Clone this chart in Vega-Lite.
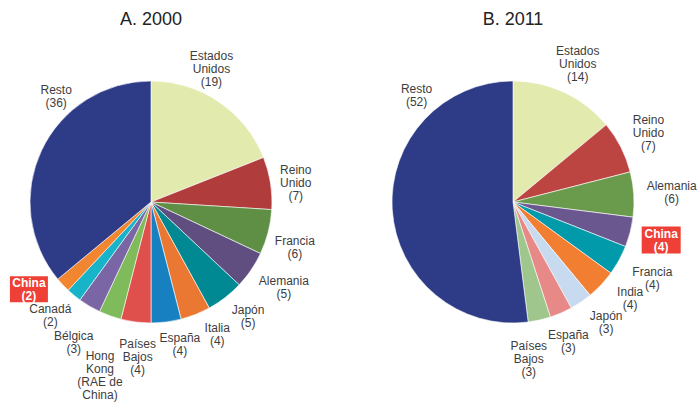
{
  "$schema": "https://vega.github.io/schema/vega-lite/v6.json",
  "padding": {"left": 0, "right": 0, "top": 11, "bottom": 0},
  "background": "#ffffff",
  "config": {
    "view": {"stroke": null},
    "title": {"fontSize": 18, "font": "Liberation Sans", "fontWeight": "normal", "color": "#222222", "offset": 7},
    "text": {"font": "Liberation Sans", "fontSize": 12, "lineHeight": 13, "fill": "#3d3d3d", "lineBreak": "\n", "baseline": "middle"}
  },
  "datasets": {
    "d2000": [
      {"pais": "Estados Unidos", "etiqueta": "Estados\nUnidos\n(19)", "valor": 19, "orden": 1},
      {"pais": "Reino Unido", "etiqueta": "Reino\nUnido\n(7)", "valor": 7, "orden": 2},
      {"pais": "Francia", "etiqueta": "Francia\n(6)", "valor": 6, "orden": 3},
      {"pais": "Alemania", "etiqueta": "Alemania\n(5)", "valor": 5, "orden": 4},
      {"pais": "Japón", "etiqueta": "Japón\n(5)", "valor": 5, "orden": 5},
      {"pais": "Italia", "etiqueta": "Italia\n(4)", "valor": 4, "orden": 6},
      {"pais": "España", "etiqueta": "España\n(4)", "valor": 4, "orden": 7},
      {"pais": "Países Bajos", "etiqueta": "Países\nBajos\n(4)", "valor": 4, "orden": 8},
      {"pais": "Hong Kong (RAE de China)", "etiqueta": "Hong\nKong\n(RAE de\nChina)", "valor": 3, "orden": 9},
      {"pais": "Bélgica", "etiqueta": "Bélgica\n(3)", "valor": 3, "orden": 10},
      {"pais": "Canadá", "etiqueta": "Canadá\n(2)", "valor": 2, "orden": 11},
      {"pais": "China", "etiqueta": "China\n(2)", "valor": 2, "orden": 12},
      {"pais": "Resto", "etiqueta": "Resto\n(36)", "valor": 36, "orden": 13}
    ],
    "d2011": [
      {"pais": "Estados Unidos", "etiqueta": "Estados\nUnidos\n(14)", "valor": 14, "orden": 1},
      {"pais": "Reino Unido", "etiqueta": "Reino\nUnido\n(7)", "valor": 7, "orden": 2},
      {"pais": "Alemania", "etiqueta": "Alemania\n(6)", "valor": 6, "orden": 3},
      {"pais": "China", "etiqueta": "China\n(4)", "valor": 4, "orden": 4},
      {"pais": "Francia", "etiqueta": "Francia\n(4)", "valor": 4, "orden": 5},
      {"pais": "India", "etiqueta": "India\n(4)", "valor": 4, "orden": 6},
      {"pais": "Japón", "etiqueta": "Japón\n(3)", "valor": 3, "orden": 7},
      {"pais": "España", "etiqueta": "España\n(3)", "valor": 3, "orden": 8},
      {"pais": "Países Bajos", "etiqueta": "Países\nBajos\n(3)", "valor": 3, "orden": 9},
      {"pais": "Resto", "etiqueta": "Resto\n(52)", "valor": 52, "orden": 10}
    ]
  },
  "spacing": 60,
  "bounds": "flush",
  "resolve": {"scale": {"color": "independent", "theta": "independent", "x": "independent", "y": "independent"}},
  "hconcat": [
    {
      "width": 302,
      "height": 332,
      "title": {"text": "A. 2000"},
      "data": {"name": "d2000"},
      "transform": [
        {"stack": "valor", "groupby": [], "sort": [{"field": "orden", "order": "ascending"}], "as": ["v0", "v1"]},
        {"calculate": "(datum.v0 + datum.v1) / 2", "as": "vm"}
      ],
      "encoding": {
        "theta": {"field": "vm", "type": "quantitative", "scale": {"domain": [0, 100]}},
        "text": {"field": "etiqueta", "type": "nominal"}
      },
      "layer": [
        {
          "mark": {"type": "arc", "outerRadius": 121, "stroke": "#ffffff", "strokeWidth": 0.6},
          "encoding": {
            "theta": {"field": "v0", "type": "quantitative", "scale": {"domain": [0, 100]}},
            "theta2": {"field": "v1"},
            "text": null,
            "color": {
              "field": "pais", "type": "nominal", "legend": null,
              "scale": {
                "domain": ["Estados Unidos", "Reino Unido", "Francia", "Alemania", "Japón", "Italia", "España", "Países Bajos", "Hong Kong (RAE de China)", "Bélgica", "Canadá", "China", "Resto"],
                "range": ["#e2eaad", "#b03d3b", "#5f8f44", "#604e80", "#008992", "#eb7832", "#1780c0", "#df4f4b", "#7fba5b", "#7a66a4", "#17b3c8", "#f28630", "#2e3b87"]
              }
            }
          }
        },
        {
          "transform": [{"filter": {"field": "pais", "equal": "Francia"}}],
          "mark": {"type": "text", "radius": 151, "thetaOffset": 0.058, "dy": -6.5}
        },
        {
          "transform": [{"filter": {"field": "pais", "equal": "Alemania"}}],
          "mark": {"type": "text", "radius": 158, "thetaOffset": -0.025, "dy": -6.5}
        },
        {
          "transform": [{"filter": {"field": "pais", "equal": "Japón"}}],
          "mark": {"type": "text", "radius": 150, "thetaOffset": -0.044, "dy": -6.5}
        },
        {
          "transform": [{"filter": {"field": "pais", "equal": "Canadá"}}],
          "mark": {"type": "text", "radius": 152, "thetaOffset": 0.033, "dy": -6.5}
        },
        {
          "transform": [{"filter": {"field": "pais", "equal": "Italia"}}],
          "mark": {"type": "text", "radius": 148, "thetaOffset": -0.087, "dy": -6.5}
        },
        {
          "transform": [{"filter": {"field": "pais", "equal": "España"}}],
          "mark": {"type": "text", "radius": 145, "thetaOffset": -0.075, "dy": -6.5}
        },
        {
          "transform": [{"filter": {"field": "pais", "equal": "Bélgica"}}],
          "mark": {"type": "text", "radius": 160, "thetaOffset": -0.03, "dy": -6.5}
        },
        {
          "transform": [{"filter": {"field": "pais", "equal": "Reino Unido"}}],
          "mark": {"type": "text", "radius": 146, "thetaOffset": 0.026, "dy": -13}
        },
        {
          "transform": [{"filter": {"field": "pais", "equal": "Países Bajos"}}],
          "mark": {"type": "text", "radius": 156, "thetaOffset": -0.04, "dy": -13}
        },
        {
          "transform": [{"filter": {"field": "pais", "equal": "Estados Unidos"}}],
          "mark": {"type": "text", "radius": 146, "thetaOffset": -0.17, "dy": -13}
        },
        {
          "transform": [{"filter": {"field": "pais", "equal": "Resto"}}],
          "mark": {"type": "text", "radius": 142, "thetaOffset": 0.4, "dy": -6.5}
        },
        {
          "transform": [{"filter": {"field": "pais", "equal": "Hong Kong (RAE de China)"}}],
          "mark": {"type": "text", "radius": 181, "thetaOffset": -0.06, "dy": -19.5}
        },
        {
          "transform": [
            {"filter": {"field": "pais", "equal": "China"}},
            {"calculate": "2 * PI * datum.vm / 100 + 0.134", "as": "ang"},
            {"calculate": "150 * sin(datum.ang)", "as": "px"},
            {"calculate": "150 * cos(datum.ang)", "as": "py"}
          ],
          "encoding": {
            "theta": null,
            "x": {"field": "px", "type": "quantitative", "axis": null, "scale": {"domain": [-151, 151], "nice": false, "zero": false}},
            "y": {"field": "py", "type": "quantitative", "axis": null, "scale": {"domain": [-166, 166], "nice": false, "zero": false}}
          },
          "layer": [
            {"mark": {"type": "point", "filled": true, "opacity": 1, "color": "#ee4036", "strokeWidth": 0, "shape": "M-1,-0.684L1,-0.684L1,0.684L-1,0.684Z", "size": 1444}, "encoding": {"text": null}},
            {"mark": {"type": "text", "fontWeight": "bold", "fill": "#ffffff", "dy": -6.5}}
          ]
        }
      ]
    },
    {
      "width": 302,
      "height": 332,
      "title": {"text": "B. 2011"},
      "data": {"name": "d2011"},
      "transform": [
        {"stack": "valor", "groupby": [], "sort": [{"field": "orden", "order": "ascending"}], "as": ["v0", "v1"]},
        {"calculate": "(datum.v0 + datum.v1) / 2", "as": "vm"}
      ],
      "encoding": {
        "theta": {"field": "vm", "type": "quantitative", "scale": {"domain": [0, 100]}},
        "text": {"field": "etiqueta", "type": "nominal"}
      },
      "layer": [
        {
          "mark": {"type": "arc", "outerRadius": 121, "stroke": "#ffffff", "strokeWidth": 0.6},
          "encoding": {
            "theta": {"field": "v0", "type": "quantitative", "scale": {"domain": [0, 100]}},
            "theta2": {"field": "v1"},
            "text": null,
            "color": {
              "field": "pais", "type": "nominal", "legend": null,
              "scale": {
                "domain": ["Estados Unidos", "Reino Unido", "Alemania", "China", "Francia", "India", "Japón", "España", "Países Bajos", "Resto"],
                "range": ["#e2eaad", "#bc4441", "#6a9a4b", "#6b5790", "#009aaa", "#f27e32", "#c8daef", "#e78a87", "#9fc78d", "#2e3b87"]
              }
            }
          }
        },
        {
          "transform": [{"filter": {"field": "pais", "oneOf": ["Estados Unidos", "Reino Unido"]}}],
          "mark": {"type": "text", "radius": 152, "dy": -13}
        },
        {
          "transform": [{"filter": {"field": "pais", "oneOf": ["España"]}}],
          "mark": {"type": "text", "radius": 150, "thetaOffset": 0.03, "dy": -6.5}
        },
        {
          "transform": [{"filter": {"field": "pais", "oneOf": ["Alemania", "Francia"]}}],
          "mark": {"type": "text", "radius": 159, "dy": -6.5}
        },
        {
          "transform": [{"filter": {"field": "pais", "oneOf": ["India", "Japón"]}}],
          "mark": {"type": "text", "radius": 152, "thetaOffset": -0.063, "dy": -6.5}
        },
        {
          "transform": [{"filter": {"field": "pais", "equal": "Países Bajos"}}],
          "mark": {"type": "text", "radius": 158, "thetaOffset": 0.12, "dy": -13}
        },
        {
          "transform": [{"filter": {"field": "pais", "equal": "Resto"}}],
          "mark": {"type": "text", "radius": 144, "thetaOffset": 0.9, "dy": -6.5}
        },
        {
          "transform": [
            {"filter": {"field": "pais", "equal": "China"}},
            {"calculate": "2 * PI * datum.vm / 100", "as": "ang"},
            {"calculate": "153 * sin(datum.ang)", "as": "px"},
            {"calculate": "153 * cos(datum.ang)", "as": "py"}
          ],
          "encoding": {
            "theta": null,
            "x": {"field": "px", "type": "quantitative", "axis": null, "scale": {"domain": [-151, 151], "nice": false, "zero": false}},
            "y": {"field": "py", "type": "quantitative", "axis": null, "scale": {"domain": [-166, 166], "nice": false, "zero": false}}
          },
          "layer": [
            {"mark": {"type": "point", "filled": true, "opacity": 1, "color": "#ee4036", "strokeWidth": 0, "shape": "M-1,-0.69L1,-0.69L1,0.69L-1,0.69Z", "size": 1521}, "encoding": {"text": null}},
            {"mark": {"type": "text", "fontWeight": "bold", "fill": "#ffffff", "dy": -6.5}}
          ]
        }
      ]
    }
  ]
}
